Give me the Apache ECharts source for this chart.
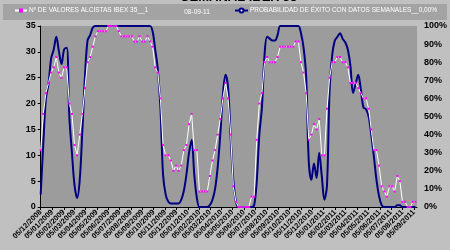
<!DOCTYPE html>
<html><head><meta charset="utf-8">
<script src="https://cdn.jsdelivr.net/npm/echarts@6/dist/echarts.min.js"></script>
<style>html,body{margin:0;padding:0;background:#c0c0c0}#c{width:450px;height:250px}</style>
</head><body><div id="c"></div>
<script>
// ---- data ----
const titleText = 'SEMANAL IBEX 35';
const seriesNames = ['Nº DE VALORES ALCISTAS IBEX 35__1', 'PROBABILIDAD DE ÉXITO CON DATOS SEMANALES__0,00%'];
const dateNote = '08-09-11';
const firstWeek = '05/12/2008';
const monthLabels = ['05/12/2008','05/01/2009','05/02/2009','05/03/2009','05/04/2009','05/05/2009','05/06/2009','05/07/2009','05/08/2009','05/09/2009','05/10/2009','05/11/2009','05/12/2009','05/01/2010','05/02/2010','05/03/2010','05/04/2010','05/05/2010','05/06/2010','05/07/2010','05/08/2010','05/09/2010','05/10/2010','05/11/2010','05/12/2010','05/01/2011','05/02/2011','05/03/2011','05/04/2011','05/05/2011','05/06/2011','05/07/2011','05/08/2011','05/09/2011'];
const leftTicks = [0,5,10,15,20,25,30,35];
const rightTicks = [0,10,20,30,40,50,60,70,80,90,100];
const alcistas = [11,18,22,24,26,27,29,26,25,27,
 27,20,18,12,10,14,18,23,28,29,
 31,33,34,34,34,34,35,35,35,35,
 34,33,33,33,33,33,32,32,33,32,
 32,33,32,31,27,26,21,12,10,10,
 9,7,8,7,8,11,12,16,18,11,
 11,3,3,3,3,6,9,11,14,17,
 21,24,21,14,4,1,0,0,0,0,
 0,2,2,13,20,22,28,29,28,28,
 28,29,31,31,31,31,31,31,32,32,
 28,26,22,13,14,16,15,17,10,10,
 19,25,28,28,29,29,28,28,27,24,
 24,24,23,22,21,21,19,15,11,11,
 8,4,3,2,4,4,3,6,5,1,
 1,0,0,1,1];
const probabilidad = [7,35,60,68,82,87,94,86,79,87,
 88,50,30,12,5,15,42,72,92,95,
 99,100,100,100,100,100,100,100,100,100,
 100,100,100,100,100,100,100,100,100,100,
 100,100,100,97,87,76,55,18,7,3,
 2,2,2,2,4,9,18,30,37,18,
 5,0,0,0,0,1,4,10,22,40,
 62,73,66,38,15,3,0,0,0,0,
 0,0,1,14,40,55,84,94,93,92,
 92,95,100,100,100,100,100,100,100,100,
 96,88,72,25,15,24,16,30,17,4,
 12,65,84,92,94,96,93,91,87,78,
 63,68,73,65,55,54,50,40,28,15,
 6,1,0,0,0,0,0,1,1,0,
 0,0,0,0,0];

// ---- helpers: x measured in days since the first week ----
function parseDMY(s){const p=s.split('/');return Date.UTC(+p[2],+p[1]-1,+p[0]);}
const DAY=86400000;
const t0=parseDMY(firstWeek);
const weekDays=alcistas.map((_,i)=>i*7);
const tickDays=monthLabels.map(s=>Math.round((parseDMY(s)-t0)/DAY));
const xMax=tickDays[tickDays.length-1]+8;

const chart=echarts.init(document.getElementById('c'),null,{renderer:'canvas'});
const FONT='Liberation Sans';
chart.setOption({
  animation:false,
  backgroundColor:'#c0c0c0',
  graphic:[
    {type:'text',x:239,y:-3,z:1,style:{text:titleText,font:'bold 13px "Liberation Sans"',fill:'#000',textAlign:'center',textVerticalAlign:'middle'}},
    {type:'rect',left:3,top:4,z:2,shape:{width:444,height:16},style:{fill:'#a3a3a3'}},
    {type:'text',x:197,y:12,z:10,style:{text:dateNote,font:'6.5px "Liberation Sans"',fill:'#fff',textAlign:'center',textVerticalAlign:'middle'}}
  ],
  legend:[
    {data:[seriesNames[0]],left:14,top:7,itemWidth:12,itemHeight:5,padding:0,textStyle:{color:'#fff',fontSize:6.5,fontFamily:FONT,padding:[0,0,0,-3]}},
    {data:[seriesNames[1]],left:234,top:7,itemWidth:13,itemHeight:5,padding:0,textStyle:{color:'#fff',fontSize:6.5,fontFamily:FONT,padding:[0,0,0,-3]}}
  ],
  grid:{left:40.7,right:32,top:26,bottom:43,show:true,backgroundColor:'#9c9c9c',borderWidth:0},
  xAxis:{type:'value',min:0,max:xMax,
    axisLine:{lineStyle:{color:'#000',width:1}},
    axisTick:{customValues:tickDays,length:3,lineStyle:{color:'#000'}},
    axisLabel:{customValues:tickDays,rotate:45,fontSize:7.5,fontWeight:'bold',fontFamily:FONT,color:'#000',margin:4,
      formatter:function(v){const k=tickDays.indexOf(Math.round(v));return k>=0?monthLabels[k]:'';}},
    splitLine:{show:false}},
  yAxis:[
    {type:'value',min:leftTicks[0],max:leftTicks[leftTicks.length-1],interval:5,
      axisLine:{show:true,lineStyle:{color:'#000'}},axisTick:{show:true,length:3,lineStyle:{color:'#000'}},
      axisLabel:{fontSize:9,fontWeight:'bold',fontFamily:FONT,color:'#000',margin:5},splitLine:{show:false}},
    {type:'value',min:rightTicks[0],max:rightTicks[rightTicks.length-1],interval:10,position:'right',
      axisLine:{show:false},axisTick:{show:false},
      axisLabel:{fontSize:9,fontWeight:'bold',fontFamily:FONT,color:'#000',margin:7,formatter:'{value}%'},splitLine:{show:false}}
  ],
  series:[
    {name:seriesNames[1],type:'line',yAxisIndex:1,data:weekDays.map((d,i)=>[d,probabilidad[i]]),
      showSymbol:false,smooth:0.35,lineStyle:{color:'#000080',width:2},itemStyle:{color:'#000080'},z:2},
    {name:seriesNames[0],type:'line',yAxisIndex:0,data:weekDays.map((d,i)=>[d,alcistas[i]]),
      symbol:'rect',symbolSize:2,showSymbol:true,showAllSymbol:true,
      lineStyle:{color:'#ffffff',width:1},itemStyle:{color:'#ff00ff'},z:3}
  ]
});
</script></body></html>
